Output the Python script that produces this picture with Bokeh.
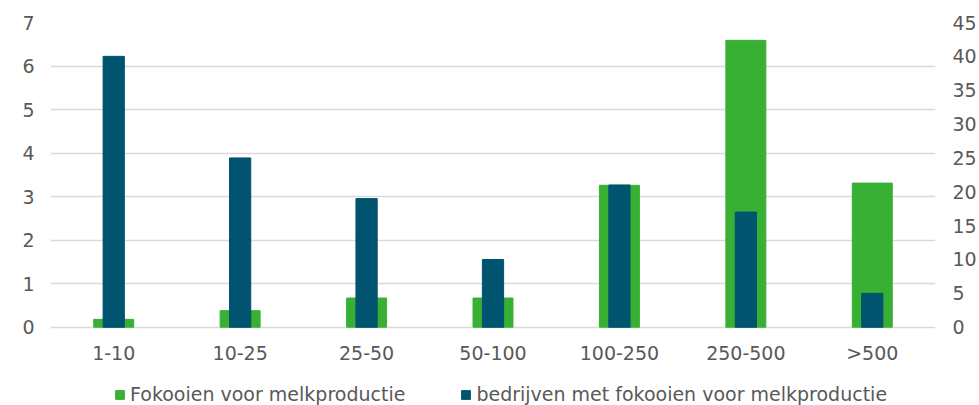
from bokeh.plotting import figure
from bokeh.models import Range1d, LinearAxis, Legend, LegendItem, FixedTicker, ColumnDataSource
from bokeh.core.properties import value
from bokeh.embed import file_html
from bokeh.resources import INLINE

categories = ["1-10", "10-25", "25-50", "50-100", "100-250", "250-500", ">500"]
fokooien = [0.18, 0.38, 0.67, 0.67, 3.26, 6.59, 3.31]
bedrijven = [40, 25, 19, 10, 21, 17, 5]
left_ticks = [0, 1, 2, 3, 4, 5, 6, 7]
right_ticks = [0, 5, 10, 15, 20, 25, 30, 35, 40, 45]

GREEN = "#37B034"
BLUE = "#005470"
TXT = "#595959"
FONT = "DejaVu Sans"
FS = "19px"

# frame reaches the bottom of the canvas; the space below zero holds the
# category labels and the legend (7 units -> 304.7 px, 78.3 px below zero)
LEFT_MAX = 7
RIGHT_MAX = 45
below = LEFT_MAX * 78.3 / 304.7

src = ColumnDataSource(dict(cat=categories, f=fokooien, b=bedrijven, zero=[0] * len(categories)))

p = figure(x_range=categories, y_range=Range1d(-below, LEFT_MAX), width=979, height=405,
           output_backend="svg", toolbar_location=None, x_axis_location=None,
           min_border_left=50, min_border_right=43, min_border_top=22, min_border_bottom=0)
p.extra_y_ranges = {"r": Range1d(-below * RIGHT_MAX / LEFT_MAX, RIGHT_MAX)}
p.outline_line_color = None
p.border_fill_color = "white"

g = p.vbar(x="cat", top="f", width=0.316, source=src, color=GREEN)
b = p.vbar(x="cat", top="b", width=0.168, source=src, color=BLUE, y_range_name="r")

p.ygrid.ticker = FixedTicker(ticks=left_ticks)
p.ygrid.grid_line_color = "#D9D9D9"
p.ygrid.grid_line_width = 1.5
p.xgrid.grid_line_color = None

la = p.yaxis[0]
la.ticker = FixedTicker(ticks=left_ticks)
ra = LinearAxis(y_range_name="r", ticker=FixedTicker(ticks=right_ticks))
p.add_layout(ra, "right")
for ax in [la, ra]:
    ax.axis_line_color = None
    ax.major_tick_line_color = None
    ax.minor_tick_line_color = None
    ax.major_tick_out = 0
    ax.major_label_text_font = FONT
    ax.major_label_text_font_size = FS
    ax.major_label_text_color = TXT
la.major_label_standoff = 16
ra.major_label_standoff = 17

# category labels under the zero line
p.text(x="cat", y="zero", text="cat", source=src, y_offset=26,
       text_align="center", text_baseline="middle",
       text_font=value(FONT), text_font_size=FS, text_color=TXT)

legend = Legend(items=[LegendItem(label="Fokooien voor melkproductie", renderers=[g]),
                       LegendItem(label="bedrijven met fokooien voor melkproductie", renderers=[b])],
                orientation="horizontal", location=(64, 0),
                label_text_font=FONT, label_text_font_size=FS, label_text_color=TXT,
                glyph_width=11, glyph_height=11, label_standoff=5, spacing=55,
                padding=0, margin=0, border_line_color=None, background_fill_alpha=0,
                label_height=18)
p.add_layout(legend, "center")

open("out.html", "w").write(file_html(p, INLINE))
